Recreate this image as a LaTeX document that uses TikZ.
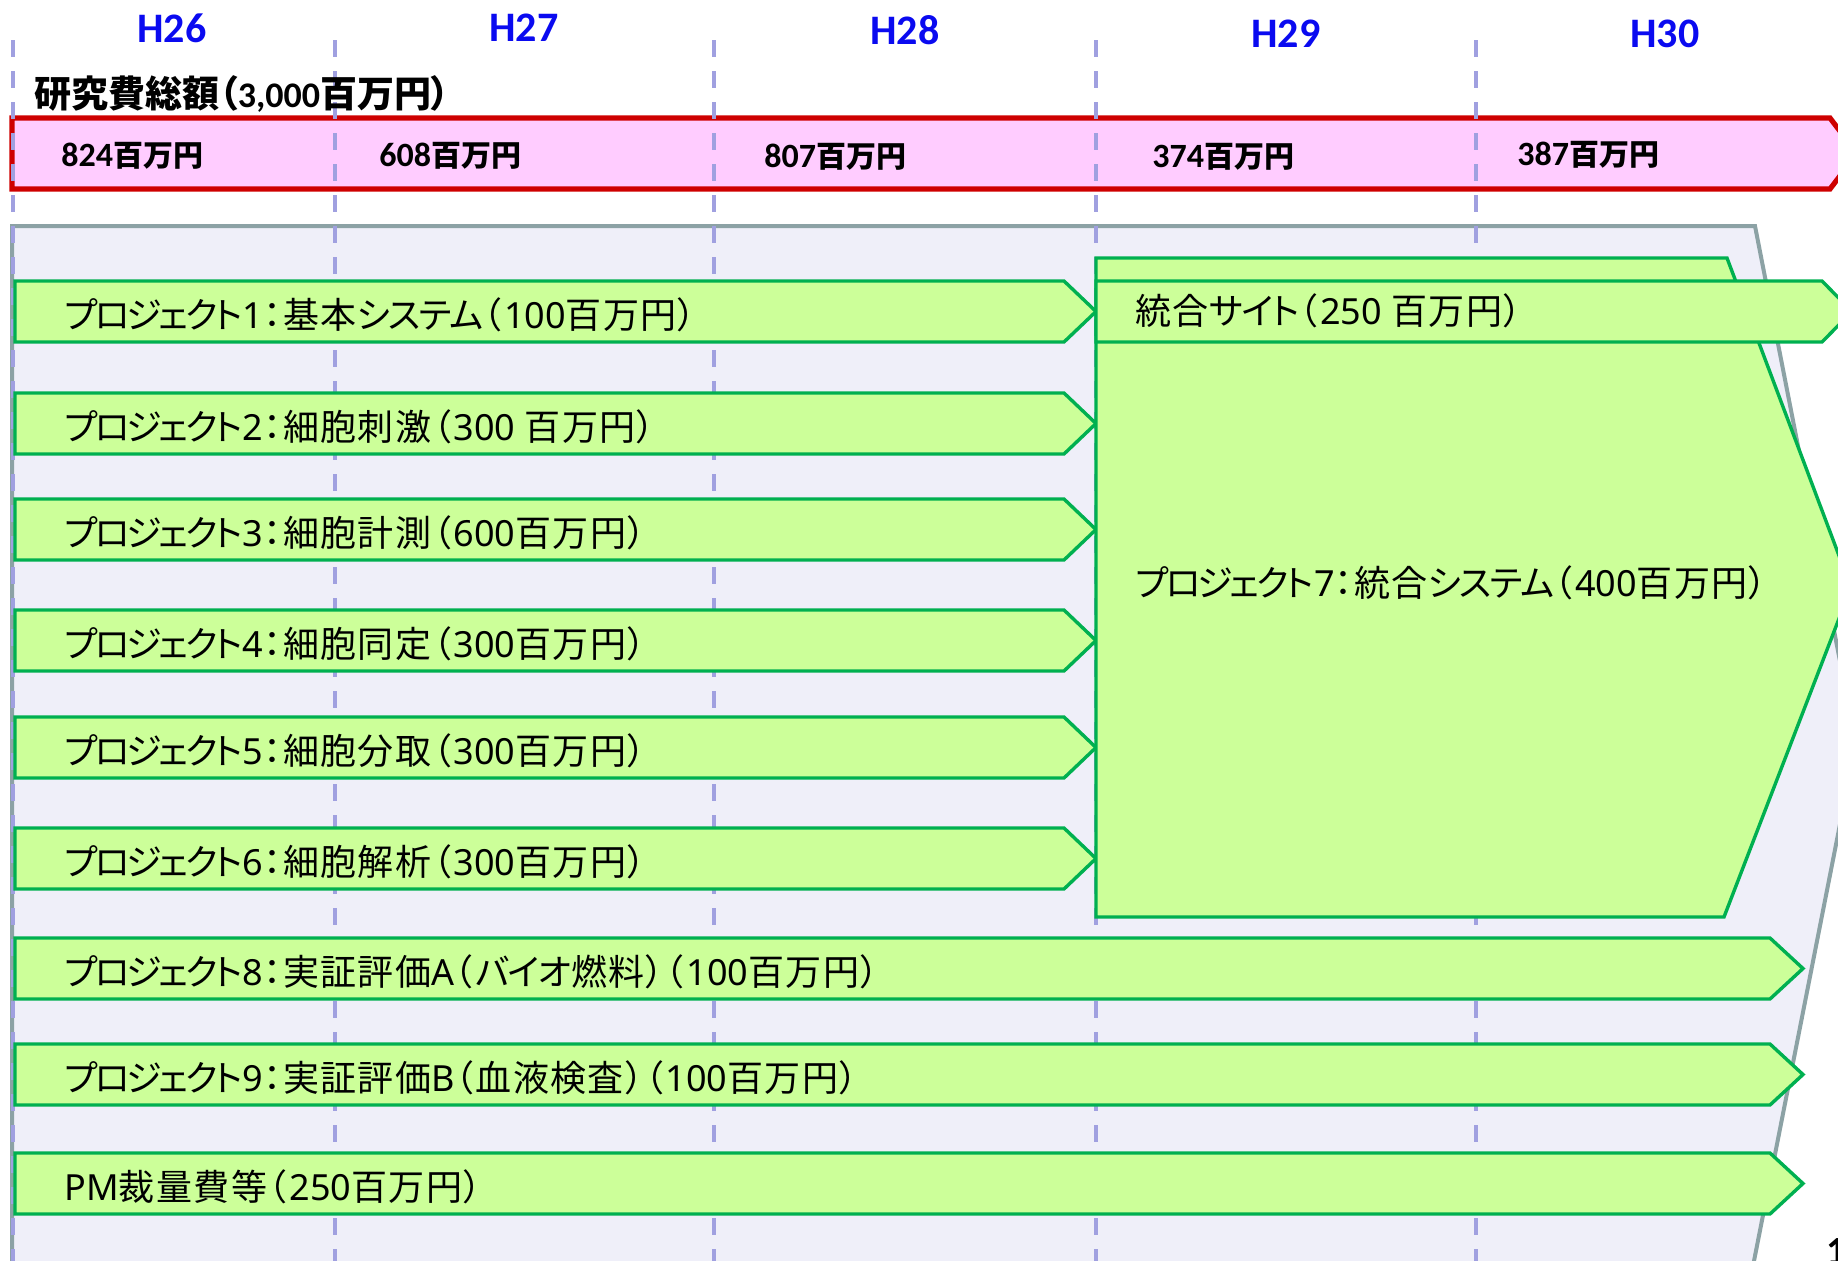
\documentclass[tikz,border=0pt]{standalone}
\usepackage{fontspec}
\setmainfont{Noto Sans CJK JP}
\newfontfamily\jpl{Noto Sans CJK JP}[LetterSpace=4, RawFeature=+palt]
\newfontfamily\jpb{Noto Sans CJK JP}[RawFeature=+palt]
\newfontfamily\kanaf{Noto Sans CJK JP}[LetterSpace=-8, RawFeature=+palt]
\newfontfamily\kanaw{Noto Sans CJK JP}[LetterSpace=-4, RawFeature=+palt]
\newfontfamily\latn{Noto Sans}
\newfontfamily\latc{Carlito}
\newcommand\lat[1]{{\latn #1}}
\newcommand\kn[1]{{\kanaf #1}}
\newcommand\kw[1]{{\kanaw #1}}
\newcommand\lp{（\kern0.08em}
\newcommand\clat[1]{{\latc\fontsize{18}{21}\selectfont #1}}
\newcommand\blat[1]{{\latc\fontsize{17}{20}\selectfont #1}}
\newcommand\gshape[5]{\path[gbar] (#1,#2) -- (#4,#2) -- (#5,{(#2+#3)/2}) -- (#4,#3) -- (#1,#3) -- cycle;}
\definecolor{lav}{RGB}{239,239,249}
\definecolor{contgray}{RGB}{140,162,165}
\definecolor{pinkf}{RGB}{255,204,255}
\definecolor{redb}{RGB}{206,0,0}
\definecolor{dashc}{RGB}{160,160,224}
\definecolor{greenf}{RGB}{204,255,153}
\definecolor{greenb}{RGB}{0,176,80}
\definecolor{yearblue}{RGB}{10,10,240}
\tikzset{
  cont/.style={fill=lav, draw=contgray, line width=2pt, line join=miter},
  redbar/.style={fill=pinkf, draw=redb, line width=2.6pt, line join=miter},
  dline/.style={draw=dashc, line width=1.6pt, dash pattern=on 8.5pt off 7pt},
  gbar/.style={fill=greenf, draw=greenb, line width=1.7pt, line join=miter},
  lbl/.style={anchor=west, inner sep=0pt, font=\jpl\fontsize{18}{21}\selectfont},
  year/.style={anchor=center, inner sep=0pt, text=yearblue, font=\latc\bfseries\fontsize{21}{25}\selectfont},
  budget/.style={anchor=west, inner sep=0pt, font=\bfseries\fontsize{15}{18}\selectfont},
  ttl/.style={anchor=west, inner sep=0pt, font=\jpb\bfseries\fontsize{18.5}{22}\selectfont}
}
\begin{document}
\begin{tikzpicture}[x=0.5pt,y={(0pt,-0.5pt)}]
\useasboundingbox (0,0) rectangle (1838,1260);
% container
\path[cont] (12,226) -- (1755,226) -- (1856,743) -- (1753,1266) -- (12,1266) -- cycle;
% red total bar
\path[redbar] (12,118) -- (1830,118) -- (1857,153.5) -- (1830,189) -- (12,189) -- cycle;
% year dividers
\foreach \x in {13,335,714,1096,1476} \draw[dline] (\x,40) -- (\x,1264);
% left project bars
\gshape{15}{281}{342}{1064}{1096}
\gshape{15}{393}{454}{1064}{1096}
\gshape{15}{499}{560}{1064}{1096}
\gshape{15}{610}{671}{1064}{1096}
\gshape{15}{717}{778}{1064}{1096}
\gshape{15}{828}{889}{1064}{1096}
% project 7
\path[gbar] (1096,258) -- (1727,258) -- (1851,587.5) -- (1724,917) -- (1096,917) -- cycle;
% integrated site
\gshape{1096}{281}{342}{1822}{1852}
% long bars
\gshape{15}{938}{999}{1770}{1803}
\gshape{15}{1044}{1105}{1770}{1803}
\gshape{15}{1153}{1214}{1770}{1803}
% year labels
\node[year] (h26) at (172,28.5) {H26};
\node[year] (h27) at (524,27.5) {H27};
\node[year] (h28) at (905,30.5) {H28};
\node[year] (h29) at (1286,33.5) {H29};
\node[year] (h30) at (1665,33.5) {H30};
% title
\node[ttl] (title) at (34,94) {研究費総額（\clat{3,000}百万円）};
% budgets
\node[budget] (b26) at (61,156) {\blat{824}百万円};
\node[budget] (b27) at (379,156) {\blat{608}百万円};
\node[budget] (b28) at (764,157) {\blat{807}百万円};
\node[budget] (b29) at (1152,157) {\blat{374}百万円};
\node[budget] (b30) at (1517,155) {\blat{387}百万円};
% project labels
\node[lbl] (p1) at (64,315) {\kn{プロジェクト}\lat{1}：基本\kw{システム}\lp\lat{100}百万円）};
\node[lbl] (p2) at (64,427) {\kn{プロジェクト}\lat{2}：細胞刺激\lp\lat{300} 百万円）};
\node[lbl] (p3) at (64,533) {\kn{プロジェクト}\lat{3}：細胞計測\lp\lat{600}百万円）};
\node[lbl] (p4) at (64,644) {\kn{プロジェクト}\lat{4}：細胞同定\lp\lat{300}百万円）};
\node[lbl] (p5) at (64,751) {\kn{プロジェクト}\lat{5}：細胞分取\lp\lat{300}百万円）};
\node[lbl] (p6) at (64,862) {\kn{プロジェクト}\lat{6}：細胞解析\lp\lat{300}百万円）};
\node[lbl] (site) at (1135,311) {統合\kw{サイト}\lp\lat{250} 百万円）};
\node[lbl] (p7) at (1135,583) {\kn{プロジェクト}\lat{7}：統合\kw{システム}\lp\lat{400}百万円）};
\node[lbl] (p8) at (64,972) {\kn{プロジェクト}\lat{8}：実証評価\lat{A}\lp\kw{バイオ}燃料）\lp\lat{100}百万円）};
\node[lbl] (p9) at (64,1078) {\kn{プロジェクト}\lat{9}：実証評価\lat{B}\lp 血液検査）\lp\lat{100}百万円）};
\node[lbl] (pm) at (64,1187) {\lat{PM}裁量費等\lp\lat{250}百万円）};
% page number (cut off)
\node[anchor=north west, inner sep=0pt, font=\latc\bfseries\fontsize{20}{24}\selectfont] (pg) at (1826,1238) {1};
\end{tikzpicture}
\end{document}
